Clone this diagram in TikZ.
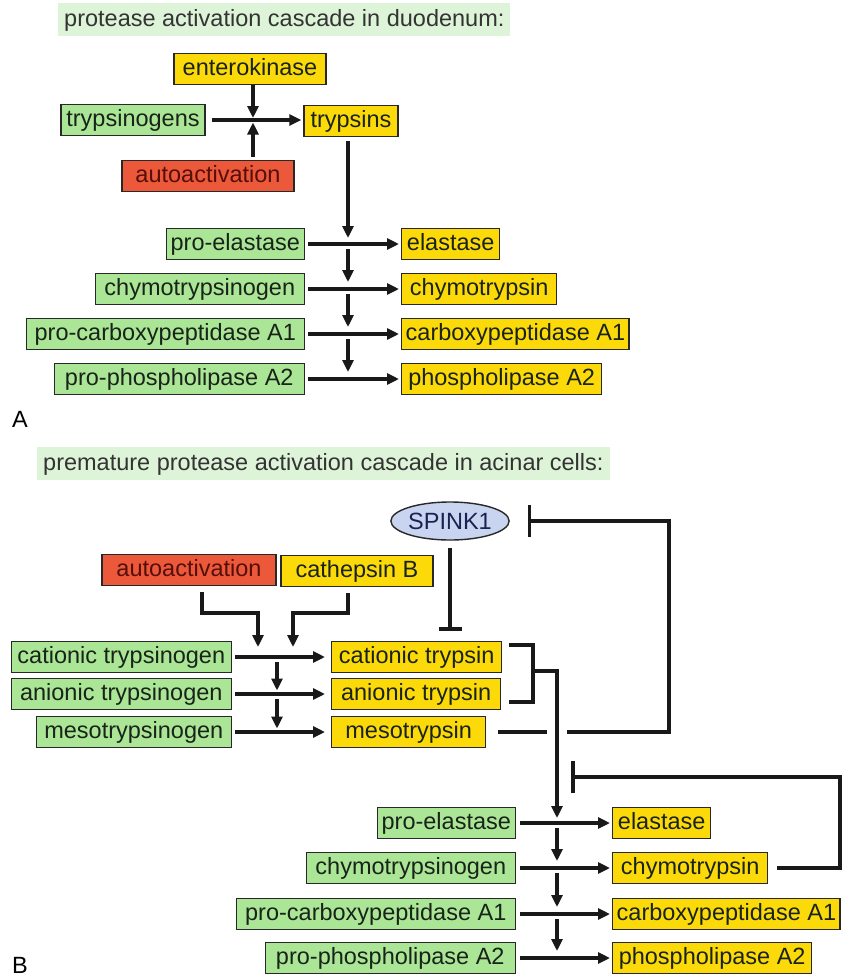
\documentclass[tikz,border=0pt]{standalone}
\usepackage{fontspec}
\setmainfont{Liberation Sans}
\usepackage{tikz}
\usetikzlibrary{positioning,calc,arrows.meta,shapes.geometric}
\definecolor{ProGreen}{RGB}{170,230,150}
\definecolor{HeadGreen}{RGB}{222,244,216}
\definecolor{EnzYellow}{RGB}{252,218,10}
\definecolor{AutoRed}{RGB}{236,88,58}
\definecolor{AutoText}{RGB}{85,15,10}
\definecolor{InhBlue}{RGB}{200,212,240}
\definecolor{InhText}{RGB}{25,35,80}
\definecolor{EdgeGray}{RGB}{40,40,40}
\definecolor{LabelInk}{RGB}{25,35,25}
\newcommand{\labfont}{\fontsize{23.5}{28}\selectfont}
\tikzset{
  box/.style={draw=EdgeGray,line width=1.4pt,minimum height=31pt,inner xsep=4pt,inner ysep=0pt,
    text height=17pt,text depth=4pt,font=\labfont,text=LabelInk},
  pro/.style={box,fill=ProGreen},
  enz/.style={box,fill=EnzYellow},
  autobox/.style={box,fill=AutoRed,text=AutoText},
  inh/.style={ellipse,draw=EdgeGray,line width=1.4pt,fill=InhBlue,text=InhText,font=\labfont,
    minimum width=117pt,minimum height=38pt,inner sep=0pt},
  head/.style={fill=HeadGreen,font=\labfont,text=black!80,anchor=west,inner xsep=6pt,
    minimum height=33pt,text height=17pt,text depth=3pt},
  flow/.style={draw=black!90,line width=3.2pt,-{Triangle[length=12pt,width=11pt]}},
  link/.style={draw=black!90,line width=3.2pt},
  block/.style={link,-{Bar[width=#1,line width=3.5pt]}},
  block/.default=32pt,
}

\begin{document}
\begin{tikzpicture}[x=1pt,y=-1pt]
\useasboundingbox (0,0) rectangle (843,978);
% A
\node[head] (hA) at (58,19) {protease activation cascade in duodenum:};
\node[enz,minimum width=152pt] (ek) at (250,69) {enterokinase};
\node[pro,minimum width=144pt] (tgen) at (133,120) {trypsinogens};
\node[enz,minimum width=94pt] (tryp) at (351,121) {trypsins};
\node[autobox,minimum width=172pt] (actA) at (208,176) {autoactivation};
\coordinate (jA) at (253,120);
\draw[flow,shorten <=6pt,shorten >=2pt] (tgen.east |- jA) -- (tryp.west |- jA);
\draw[flow,shorten >=2pt] (ek.south -| jA) -- (jA);
\draw[flow,shorten <=3pt,shorten >=2.5pt] (actA.north -| jA) -- (jA);
\foreach \pname/\ename/\y/\wgrn/\wyel [count=\i] in {pro-elastase/elastase/244/138/98,
    chymotrypsinogen/chymotrypsin/289/209/155,
    pro-carboxypeptidase A1/carboxypeptidase A1/334/278/227,
    pro-phospholipase A2/phospholipase A2/379/250/200}{
  \node[pro,anchor=east,minimum width=\wgrn pt] (pA\i) at (305,\y) {\pname};
  \node[enz,anchor=west,minimum width=\wyel pt] (eA\i) at (401,\y) {\ename};
  \coordinate (cA\i) at (348,\y);
  \draw[flow,shorten <=3pt,shorten >=2pt] (pA\i) -- (eA\i);
}
\draw[flow,shorten <=4pt,shorten >=6pt] (tryp.south -| cA1) -- (cA1);
\foreach \i/\j in {1/2,2/3,3/4} \draw[flow,shorten <=5pt,shorten >=7pt] (cA\i) -- (cA\j);
\node[font=\labfont,anchor=base west,inner sep=0pt] (lblA) at (12,427) {A};
% B
\node[head] (hB) at (37,463) {premature protease activation cascade in acinar cells:};
\node[inh] (spk) at (450,521) {SPINK1};
\node[autobox,minimum width=174pt] (actB) at (189,570) {autoactivation};
\node[enz,minimum width=152pt] (cat) at (357,571) {cathepsin B};
\foreach \pname/\ename/\y/\wgrn/\wyel [count=\i] in {cationic trypsinogen/cationic trypsin/657/220/170,
    anionic trypsinogen/anionic trypsin/694/220/169,
    mesotrypsinogen/mesotrypsin/732/195/154}{
  \node[pro,anchor=east,minimum width=\wgrn pt] (pB\i) at (232,\y) {\pname};
  \node[enz,anchor=west,minimum width=\wyel pt] (eB\i) at (331,\y) {\ename};
  \coordinate (cB\i) at (277,\y);
  \draw[flow,shorten <=3pt,shorten >=6pt] (pB\i) -- (eB\i);
}
\foreach \i/\j in {1/2,2/3} \draw[flow,shorten <=5pt,shorten >=3.5pt] (cB\i) -- (cB\j);
\coordinate (bend) at (0,613);
\coordinate (jX) at (258,657);
\coordinate (jY) at (293,657);
\draw[flow,shorten <=6pt,shorten >=10pt] ([xshift=13pt]actB.south) |- (bend -| jX) -- (jX);
\draw[flow,shorten <=6pt,shorten >=10pt] ([xshift=-9pt]cat.south) |- (bend -| jY) -- (jY);
\draw[block=23pt,shorten <=7pt,shorten >=10pt] (spk.south) -- (spk.south |- eB1.north);
\foreach \pname/\ename/\y/\wgrn/\wyel [count=\i] in {pro-elastase/elastase/823/138/98,
    chymotrypsinogen/chymotrypsin/868/209/155,
    pro-carboxypeptidase A1/carboxypeptidase A1/914/279/227,
    pro-phospholipase A2/phospholipase A2/958/250/199}{
  \node[pro,anchor=east,minimum width=\wgrn pt] (pC\i) at (516,\y) {\pname};
  \node[enz,anchor=west,minimum width=\wyel pt] (eC\i) at (612,\y) {\ename};
  \coordinate (cC\i) at (557,\y);
  \draw[flow,shorten <=4pt,shorten >=2pt] (pC\i) -- (eC\i);
}
\foreach \i/\j in {1/2,2/3,3/4} \draw[flow,shorten <=5pt,shorten >=7pt] (cC\i) -- (cC\j);
\coordinate (brT) at (509,645);
\coordinate (brB) at (509,702);
\coordinate (brM) at (533,671);
\draw[link] (brT) -| (brM) |- (brB);
\draw[flow,shorten >=5pt] (brM) -| (cC1);
\coordinate (gapL) at (547,732);
\coordinate (gapR) at (567,732);
\coordinate (fbS) at (669,521);
\draw[link,shorten <=12pt] (eB3.east |- gapL) -- (gapL);
\draw[block,shorten >=18pt] (gapR) -| (fbS) -- (spk.east);
\coordinate (fbT) at (840,777);
\coordinate (barC) at (571,777);
\draw[block,shorten <=9pt] (eC2.east) -| (fbT) -- (barC);
\node[font=\labfont,anchor=base west,inner sep=0pt] (lblB) at (12,973) {B};
\end{tikzpicture}
\end{document}
